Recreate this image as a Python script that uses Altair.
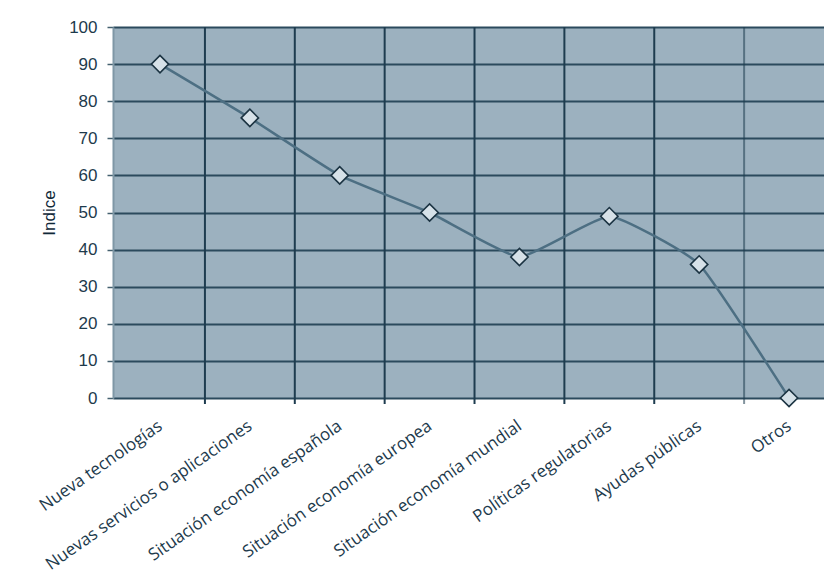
import altair as alt
import pandas as pd

# Factores y su índice
categorias = [
    "Nueva tecnologías",
    "Nuevas servicios o aplicaciones",
    "Situación economía española",
    "Situación economía europea",
    "Situación economía mundial",
    "Políticas regulatorias",
    "Ayudas públicas",
    "Otros",
]
indice = [90, 75.5, 60, 50, 38, 49, 36, 0]

# Separadores verticales entre categorías
separadores = [0.5, 1.5, 2.5, 3.5, 4.5, 5.5, 6.5]

datos = pd.DataFrame({"pos": list(range(len(categorias))), "factor": categorias, "indice": indice})
lineas = pd.DataFrame({"sep": separadores})

label_expr = "[" + ",".join("'" + c + "'" for c in categorias) + "][datum.value]"

x_scale = alt.Scale(domain=[-0.523, 7.389], nice=False, zero=False)
y_scale = alt.Scale(domain=[0, 100], nice=False)

texto = "#1d3a4c"

x_axis = alt.Axis(
    values=list(range(len(categorias))),
    labelExpr=label_expr,
    labelAngle=-35,
    labelAlign="right",
    labelBaseline="middle",
    labelFont="Open Sans",
    labelFontSize=17,
    labelColor=texto,
    labelPadding=26,
    labelOverlap=False,
    labelLimit=0,
    labelBound=False,
    ticks=False,
    grid=False,
    domain=False,
    title=None,
)

y_axis = alt.Axis(
    values=list(range(0, 101, 10)),
    tickCount=11,
    grid=True,
    gridColor="#2b4a5d",
    gridWidth=2,
    tickColor="#44606f",
    tickSize=6,
    tickWidth=1.5,
    domainColor="#7f97a6",
    domainWidth=2,
    labelFont="Liberation Sans",
    labelFontSize=17,
    labelColor=texto,
    labelPadding=10,
    labelOverlap=False,
    title="Indice",
    titleFont="Liberation Sans",
    titleFontSize=17,
    titleFontWeight="normal",
    titleColor="#102838",
    titlePadding=10,
)

separa = alt.Chart(lineas).mark_rule(color="#1e3c4f", strokeWidth=2).encode(
    x=alt.X("sep:Q", scale=x_scale, axis=x_axis),
    y=alt.value(0),
    y2=alt.value(377),
    opacity=alt.condition(alt.datum.sep > 6, alt.value(0.55), alt.value(1.0)),
)

linea = alt.Chart(datos).mark_line(
    color="#4d6f83", strokeWidth=2.5, interpolate="cardinal", tension=0.6
).encode(
    x=alt.X("pos:Q", scale=x_scale, axis=x_axis),
    y=alt.Y("indice:Q", scale=y_scale, axis=y_axis),
)

puntos = alt.Chart(datos).mark_point(
    shape="diamond", size=300, filled=True, fill="#d6e1e8", stroke="#1b3342", strokeWidth=1.6, opacity=1
).encode(
    x=alt.X("pos:Q", scale=x_scale, axis=x_axis),
    y=alt.Y("indice:Q", scale=y_scale, axis=y_axis),
)

chart = (
    alt.layer(separa, linea, puntos)
    .properties(
        width=711,
        height=371,
        padding={"left": 113, "top": 27, "right": 0, "bottom": 183},
        autosize=alt.AutoSizeParams(type="none"),
        background="white",
    )
    .configure_view(fill="#9cb1bf", stroke=None)
)

chart.save("out.html", embed_options={"renderer": "svg", "actions": False})
